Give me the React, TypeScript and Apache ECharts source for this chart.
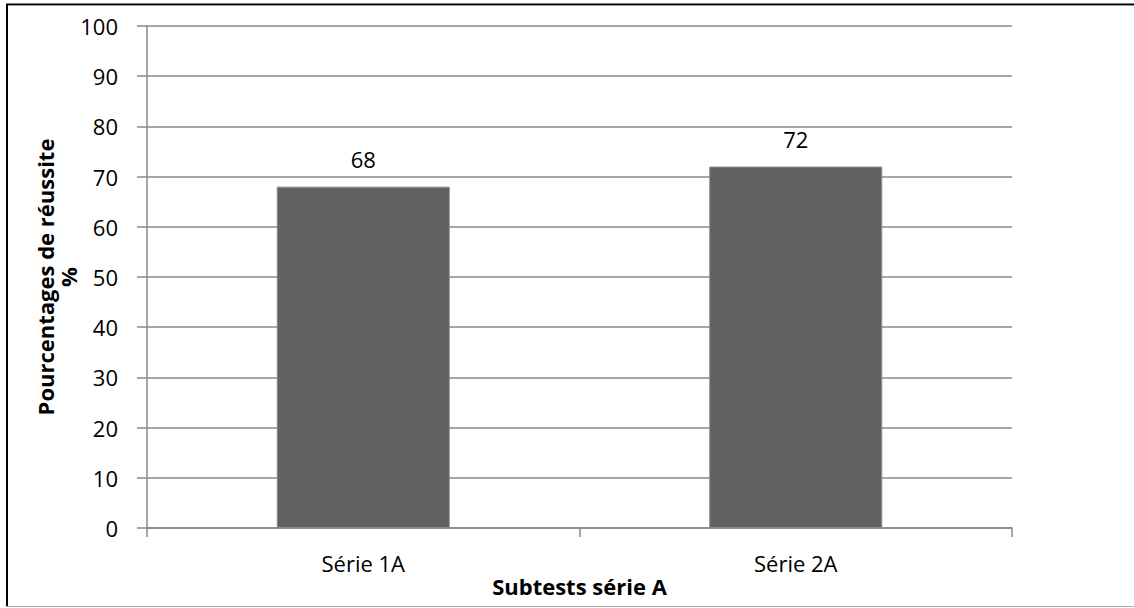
import React, { useEffect, useRef } from "react";
import * as echarts from "echarts";

const categories = ["Série 1A", "Série 2A"];
const values = [68, 72];
const yTicks = [0, 10, 20, 30, 40, 50, 60, 70, 80, 90, 100];

const FONT = "'Open Sans', 'Noto Sans', sans-serif";

export default function App() {
  const ref = useRef<HTMLDivElement>(null);
  useEffect(() => {
    if (!ref.current) return;
    const chart = echarts.init(ref.current, null, { renderer: "svg" });
    chart.setOption({
      animation: false,
      backgroundColor: "#ffffff",
      textStyle: { fontFamily: FONT },
      grid: { left: 147, right: 122, top: 26, bottom: 80, containLabel: false },
      graphic: [
        { type: "line", shape: { x1: 6, y1: 4.5, x2: 1134, y2: 4.5 }, style: { stroke: "#000", lineWidth: 2 } },
        { type: "line", shape: { x1: 6, y1: 5.5, x2: 1134, y2: 5.5 }, style: { stroke: "#999", lineWidth: 1 } },
        { type: "line", shape: { x1: 7, y1: 4, x2: 7, y2: 607 }, style: { stroke: "#000", lineWidth: 2 } },
        { type: "line", shape: { x1: 6, y1: 606.5, x2: 1134, y2: 606.5 }, style: { stroke: "#aaa", lineWidth: 1 } },
      ],
      xAxis: {
        type: "category",
        data: categories,
        name: "Subtests série A",
        nameLocation: "middle",
        nameGap: 47,
        nameMoveOverlap: false,
        nameTextStyle: { fontFamily: FONT, fontSize: 22, fontWeight: "bold", color: "#000" },
        axisLine: { show: true, lineStyle: { color: "#888", width: 1.5 } },
        axisTick: { show: true, alignWithLabel: false, length: 9, lineStyle: { color: "#888", width: 1.5 } },
        axisLabel: { fontFamily: FONT, fontSize: 22, color: "#000", margin: 24 },
      },
      yAxis: {
        type: "value",
        min: 0,
        max: 100,
        interval: 10,
        name: "Pourcentages de réussite\n%",
        nameLocation: "middle",
        nameGap: 68,
        nameMoveOverlap: false,
        nameRotate: 90,
        nameTextStyle: { fontFamily: FONT, fontSize: 22, fontWeight: "bold", color: "#000", lineHeight: 23 },
        axisLine: { show: true, lineStyle: { color: "#888", width: 1.5 } },
        axisTick: { show: true, length: 10, lineStyle: { color: "#888", width: 1.5 } },
        axisLabel: {
          fontFamily: FONT,
          fontSize: 22,
          color: "#000",
          margin: 29,
          formatter: (v: number) => (yTicks.includes(v) ? String(v) : ""),
        },
        splitLine: { show: true, lineStyle: { color: "#888", width: 1.5 } },
      },
      series: [
        {
          type: "bar",
          data: values,
          barWidth: "40%",
          itemStyle: { color: "#616161", borderColor: "#8a8a8a", borderWidth: 1 },
          label: {
            show: true,
            position: "top",
            distance: 17,
            fontFamily: FONT,
            fontSize: 22,
            color: "#000",
          },
        },
      ],
    });
    return () => chart.dispose();
  }, []);
  return (
    <div
      ref={ref}
      style={{ position: "fixed", left: 0, top: 0, width: 1134, height: 608 }}
    />
  );
}
